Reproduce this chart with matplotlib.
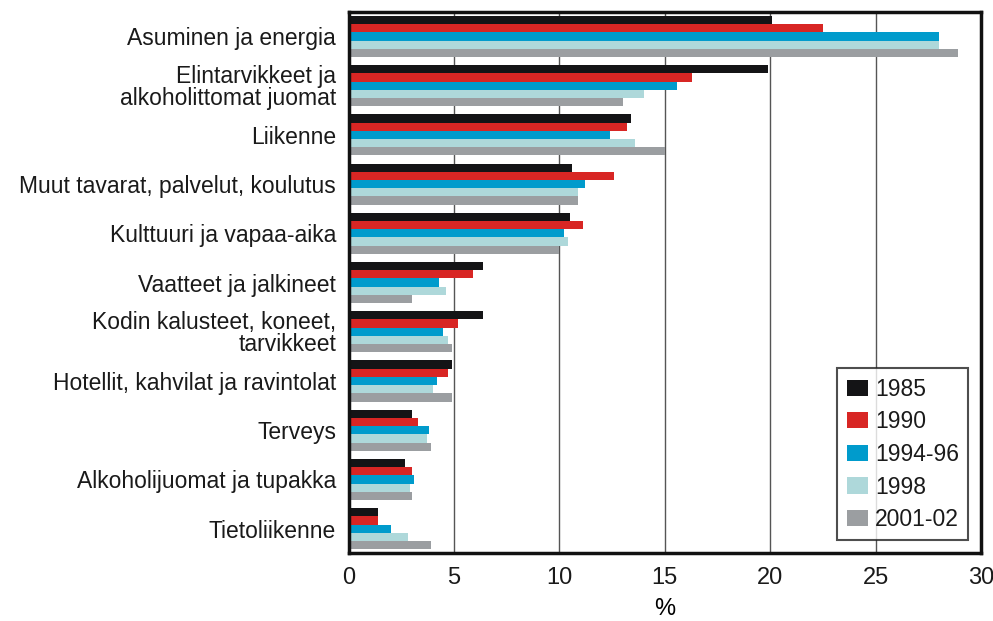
import numpy as np
import matplotlib.pyplot as plt

categories = ["Asuminen ja energia",
              "Elintarvikkeet ja\nalkoholittomat juomat",
              "Liikenne",
              "Muut tavarat, palvelut, koulutus",
              "Kulttuuri ja vapaa-aika",
              "Vaatteet ja jalkineet",
              "Kodin kalusteet, koneet,\ntarvikkeet",
              "Hotellit, kahvilat ja ravintolat",
              "Terveys",
              "Alkoholijuomat ja tupakka",
              "Tietoliikenne"]

years = ["1985", "1990", "1994-96", "1998", "2001-02"]

v1985 = [20.1, 19.9, 13.4, 10.6, 10.5, 6.4, 6.4, 4.9, 3.0, 2.7, 1.4]
v1990 = [22.5, 16.3, 13.2, 12.6, 11.1, 5.9, 5.2, 4.7, 3.3, 3.0, 1.4]
v1994 = [28.0, 15.6, 12.4, 11.2, 10.2, 4.3, 4.5, 4.2, 3.8, 3.1, 2.0]
v1998 = [28.0, 14.0, 13.6, 10.9, 10.4, 4.6, 4.7, 4.0, 3.7, 2.9, 2.8]
v2001 = [28.9, 13.0, 15.0, 10.9, 10.0, 3.0, 4.9, 4.9, 3.9, 3.0, 3.9]

colors = ["#141416", "#d82624", "#009bcc", "#aed8da", "#9b9ea1"]

plt.rcParams['font.family'] = ['Liberation Sans', 'DejaVu Sans']
plt.rcParams['font.size'] = 16.5
plt.rcParams['text.color'] = '#1a1a1a'

fig = plt.figure(figsize=(9.93, 6.21), dpi=100)
ax = fig.add_axes([0.351, 0.109, 0.637, 0.872])

series = [v1985, v1990, v1994, v1998, v2001]
y = np.arange(len(categories))
h = 0.167
for i, (vals, lab, c) in enumerate(zip(series, years, colors)):
    ax.barh(y - 2 * h + i * h, vals, height=h, color=c, label=lab, zorder=2)

ax.set_ylim(len(categories) - 0.5, -0.5)
ax.set_xlim(0, 30)
ax.set_xticks(range(0, 31, 5))
ax.set_yticks(y)
ax.set_yticklabels(categories, ha='right', linespacing=0.95, fontsize=16.5, color='#1a1a1a')
ax.set_xticklabels([str(t) for t in range(0, 31, 5)], fontsize=17, color='#1a1a1a')
ax.tick_params(length=0)
ax.tick_params(axis='y', pad=9)
ax.tick_params(axis='x', pad=10)
ax.grid(axis='x', color='#555555', linewidth=1, zorder=0)
ax.set_axisbelow(True)
for s in ax.spines.values():
    s.set_linewidth(2.5)
    s.set_color('#111111')
ax.set_xlabel('%', labelpad=6, fontsize=17)

leg = ax.legend(loc='lower right', bbox_to_anchor=(0.98, 0.024), frameon=True,
                fancybox=False, edgecolor='#222222', handlelength=0.95,
                handleheight=0.7, handletextpad=0.3, labelspacing=0.42,
                borderpad=0.4, borderaxespad=0, fontsize=16.5)
leg.get_frame().set_linewidth(1.5)

fig.savefig('out.png', dpi=100)
